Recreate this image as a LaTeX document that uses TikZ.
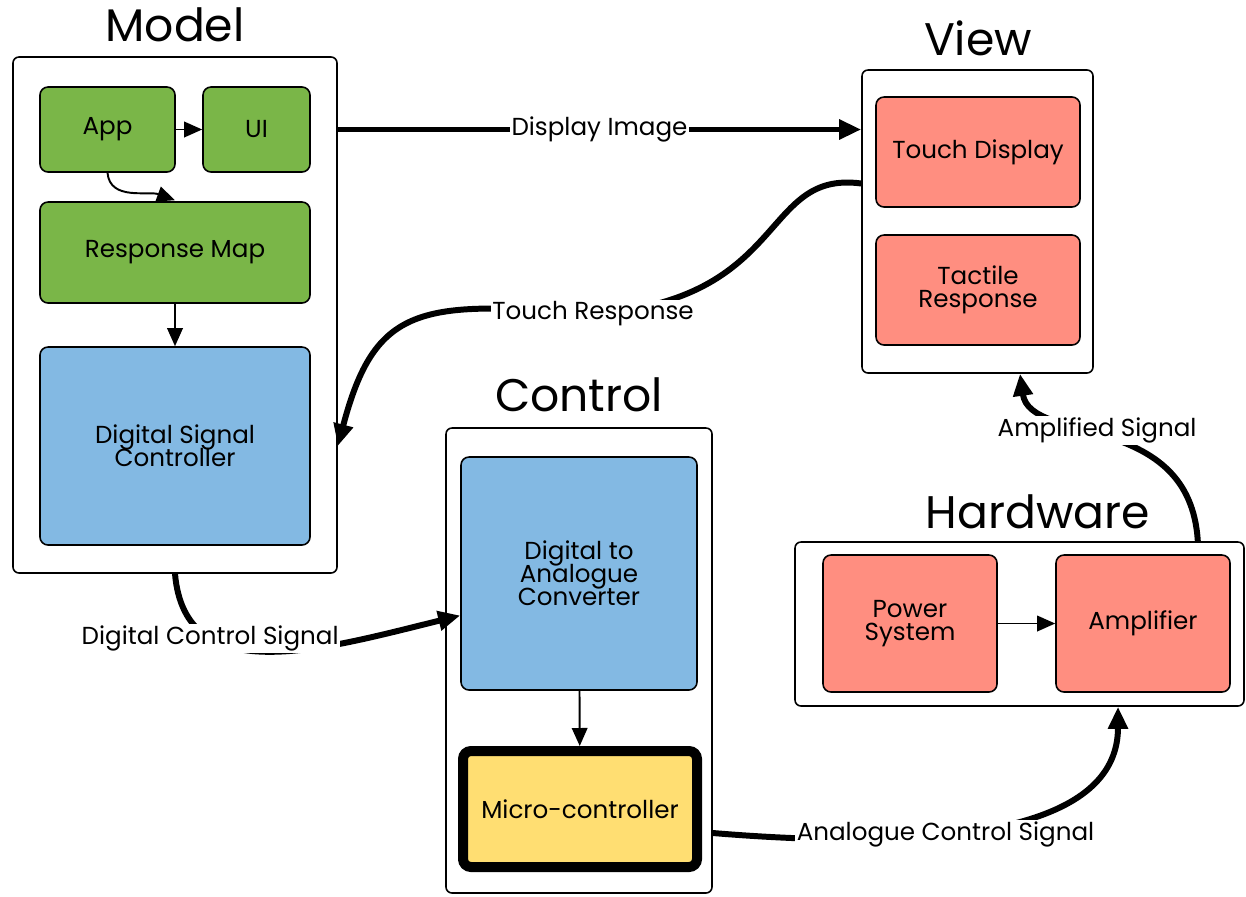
\documentclass[tikz,border=0pt]{standalone}
\usepackage{fontspec}
\setmainfont{Poppins}
\usetikzlibrary{arrows.meta,calc}
\definecolor{mvcgreen}{RGB}{122,182,72}
\definecolor{mvcblue}{RGB}{131,185,227}
\definecolor{mvcred}{RGB}{255,142,128}
\definecolor{mvcyellow}{RGB}{255,222,114}
\newcommand{\blockfont}{\fontsize{14}{13}\selectfont\lineskiplimit=-20pt}
\newcommand{\headfont}{\fontsize{26}{28}\selectfont}

\begin{document}
\begin{tikzpicture}[
        group/.style={draw, line width=0.9pt, rounded corners=1.2mm, fill=white},
        block/.style={draw, line width=0.9pt, rounded corners=1.6mm,
                      align=center, font=\blockfont, inner sep=0pt},
        title/.style={font=\headfont},
        lbl/.style={fill=white, inner sep=1pt, font=\blockfont},
        flow/.style={-{Triangle[length=3.6mm,width=3.1mm]}, line width=1.1pt},
        signal/.style={-{Triangle[length=4.4mm,width=3.8mm]}, line width=3.4pt},
    ]
        \useasboundingbox (0,0) rectangle (24.92,-17.92);

        % Groups
        \node[group, minimum width=6.48cm, minimum height=10.32cm] (model) at (3.5,-6.3) {};
        \node[group, minimum width=4.62cm, minimum height=6.06cm] (view) at (19.55,-4.43) {};
        \node[group, minimum width=5.32cm, minimum height=9.3cm] (control) at (11.58,-13.21) {};
        \node[group, minimum width=8.98cm, minimum height=3.28cm] (hw) at (20.39,-12.48) {};

        \node[title] (modeltitle) at (3.5,-0.5) {Model};
        \node[title] (viewtitle) at (19.56,-0.76) {View};
        \node[title] (controltitle) at (11.58,-7.9) {Control};
        \node[title] (hwtitle) at (20.76,-10.24) {Hardware};

        % Model
        \node[block, fill=mvcgreen, minimum width=2.7cm, minimum height=1.7cm] (app) at (2.15,-2.59) {App};
        \node[block, fill=mvcgreen, minimum width=2.14cm, minimum height=1.7cm] (ui) at (5.13,-2.59) {UI};
        \node[block, fill=mvcgreen, minimum width=5.4cm, minimum height=2.02cm] (resp) at (3.5,-5.05) {Response Map};
        \node[block, fill=mvcblue, minimum width=5.4cm, minimum height=3.96cm] (dsc) at (3.5,-8.92)
              {Digital Signal\\Controller};

        % View
        \node[block, fill=mvcred, minimum width=4.08cm, minimum height=2.2cm] (touch) at (19.56,-3.04) {Touch Display};
        \node[block, fill=mvcred, minimum width=4.08cm, minimum height=2.2cm] (tactile) at (19.56,-5.8)
              {Tactile\\Response};

        % Control
        \node[block, fill=mvcblue, minimum width=4.72cm, minimum height=4.66cm] (dac) at (11.58,-11.47)
              {Digital to\\Analogue\\Converter};
        \node[block, fill=mvcyellow, line width=5.7pt, minimum width=4.68cm, minimum height=2.32cm] (micro)
              at (11.6,-16.18) {Micro-controller};

        % Hardware
        \node[block, fill=mvcred, minimum width=3.48cm, minimum height=2.74cm] (power) at (18.2,-12.47)
              {Power\\System};
        \node[block, fill=mvcred, minimum width=3.48cm, minimum height=2.74cm] (amp) at (22.86,-12.47) {Amplifier};

        % Arrows inside the groups
        \draw[flow] (app) -- (ui);
        \draw[flow] (app.south) to[out=-85, in=160] ($(resp.north)+(0,0.02)$);
        \draw[flow] (resp) -- (dsc);
        \draw[flow] (dac) -- (micro);
        \draw[flow] (power) -- (amp);

        % Signals between the groups
        \draw[signal] (model.east |- ui) -- node[lbl]{Display Image} (view.west |- ui);
        \draw[signal] ($(view.west)+(0,0.76)$) .. controls (15.2,-3.4) and (15.8,-6.0) .. (11.86,-6.28)
              node[lbl]{Touch Response}
              .. controls (8.4,-6.0) and (7.5,-6.1) .. (model.east |- dsc.east);
        \draw[signal] (model.south) .. controls (3.7,-13.8) and (6.4,-13.0) ..
              node[lbl, pos=0.28]{Digital Control Signal} ($(dac.west)+(0,-0.84)$);
        \draw[signal] ($(control.east |- micro.east)+(0,-0.48)$) .. controls (19.6,-17.1) and (22.36,-16.4) ..
              node[lbl, pos=0.35]{Analogue Control Signal} ($(hw.south)+(1.97,0)$);
        \draw[signal] ($(hw.north east)+(-0.94,0)$) .. controls (23.8,-8.2) and (20.6,-8.9) ..
              node[lbl, pos=0.55]{Amplified Signal} ($(view.south)+(0.85,0)$);
    \end{tikzpicture}
\end{document}
